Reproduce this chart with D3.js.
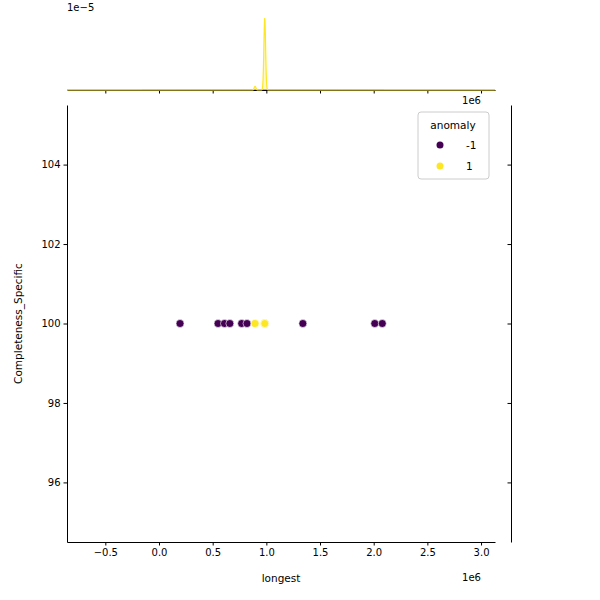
<!DOCTYPE html><html><head><script src="https://cdn.jsdelivr.net/npm/d3@7"></script>
<style>body{margin:0}text{font-family:"DejaVu Sans",sans-serif}</style></head><body><svg id="c" width="600" height="600"></svg><script>
const longestNeg=[196000,550000,610000,660000,770000,820000,1340000,2010000,2080000];
const longestPos=[895000,985000,985000,985000,985000,985000,985000,985000,985000,985000,985000,985000,985000,985000,985000,985000,985000,985000,985000,985000,985000];
const completeness=100;
const xTicks=[-0.5,0,0.5,1.0,1.5,2.0,2.5,3.0];
const yTicks=[96,98,100,102,104];
const colNeg="#440154",colPos="#fde725";
const svg=d3.select("#c");
const L=67,R=495,T=105,B=542;
const x=d3.scaleLinear().domain([-857000,3130000]).range([L,R]);
const y=d3.scaleLinear().domain([94.5,105.5]).range([B,T]);
const gx=svg.append("g").attr("transform",`translate(0,${B})`).call(d3.axisBottom(x).tickValues(xTicks.map(v=>v*1e6)).tickFormat(v=>(v/1e6).toFixed(1).replace("-","−")).tickSize(3.5).tickSizeOuter(0));
const gy=svg.append("g").attr("transform",`translate(${L},0)`).call(d3.axisLeft(y).tickValues(yTicks).tickSize(3.5).tickSizeOuter(0));
[gx,gy].forEach(g=>{g.selectAll("text").attr("font-size",10).attr("fill","#000");g.select(".domain").attr("stroke","#000");g.selectAll("line").attr("stroke","#000");});
svg.append("text").attr("x",481).attr("y",581).attr("font-size",10).attr("text-anchor","end").text("1e6");
svg.append("text").attr("x",(L+R)/2).attr("y",582).attr("text-anchor","middle").attr("font-size",10.5).text("longest");
svg.append("text").attr("transform",`translate(22,${(T+B)/2}) rotate(-90)`).attr("text-anchor","middle").attr("font-size",10.5).text("Completeness_Specific");
const pts=longestNeg.map(v=>({v,c:colNeg})).concat(longestPos.map(v=>({v,c:colPos})));
svg.append("g").selectAll("circle").data(pts).join("circle").attr("cx",d=>x(d.v)).attr("cy",y(completeness)).attr("r",4).attr("fill",d=>d.c).attr("stroke","#fff").attr("stroke-width",0.6);
const MB=90;
const gm=svg.append("g").attr("transform",`translate(0,${MB})`).call(d3.axisBottom(x).tickValues(xTicks.map(v=>v*1e6)).tickFormat("").tickSize(3.5).tickSizeOuter(0));
gm.selectAll("line,path").attr("stroke","#000");
svg.append("text").attr("x",67).attr("y",11).attr("font-size",10).text("1e−5");
svg.append("text").attr("x",481).attr("y",104).attr("font-size",10).attr("text-anchor","end").text("1e6");
const N=longestNeg.length+longestPos.length;
function kde(vals,bw){const g=d3.range(-857000,3130000,2000);return g.map(t=>[t,d3.sum(vals,v=>Math.exp(-0.5*((t-v)/bw)**2)/(bw*Math.sqrt(2*Math.PI)))/N]);}
const kNeg=kde(longestNeg,1500000),kPos=kde(longestPos,8000);
const my=d3.scaleLinear().domain([0,d3.max(kPos,d=>d[1])]).range([MB,18]);
const area=d3.area().x(d=>x(d[0])).y0(MB).y1(d=>my(d[1]));
const line=d3.line().x(d=>x(d[0])).y(d=>my(d[1]));
[[kNeg,colNeg,0.6],[kPos,colPos,1.2]].forEach(([k,c,w])=>{svg.append("path").attr("d",area(k)).attr("fill",c).attr("fill-opacity",0.25);svg.append("path").attr("d",line(k)).attr("fill","none").attr("stroke",c).attr("stroke-width",w);});
const gr=svg.append("g").attr("transform",`translate(511,0)`).call(d3.axisLeft(y).tickValues(yTicks).tickFormat("").tickSize(3.5).tickSizeOuter(0));
gr.selectAll("line,path").attr("stroke","#000");
const lg=svg.append("g");
lg.append("rect").attr("x",418).attr("y",112).attr("width",71).attr("height",67).attr("rx",3).attr("fill","#fff").attr("stroke","#ccc");
lg.append("text").attr("x",453).attr("y",129).attr("text-anchor","middle").attr("font-size",10.5).text("anomaly");
[["-1",colNeg],["1",colPos]].forEach((d,i)=>{lg.append("circle").attr("cx",440).attr("cy",145+i*21).attr("r",3.5).attr("fill",d[1]);lg.append("text").attr("x",466).attr("y",149+i*21).attr("font-size",10.5).text(d[0]);});
</script></body></html>
